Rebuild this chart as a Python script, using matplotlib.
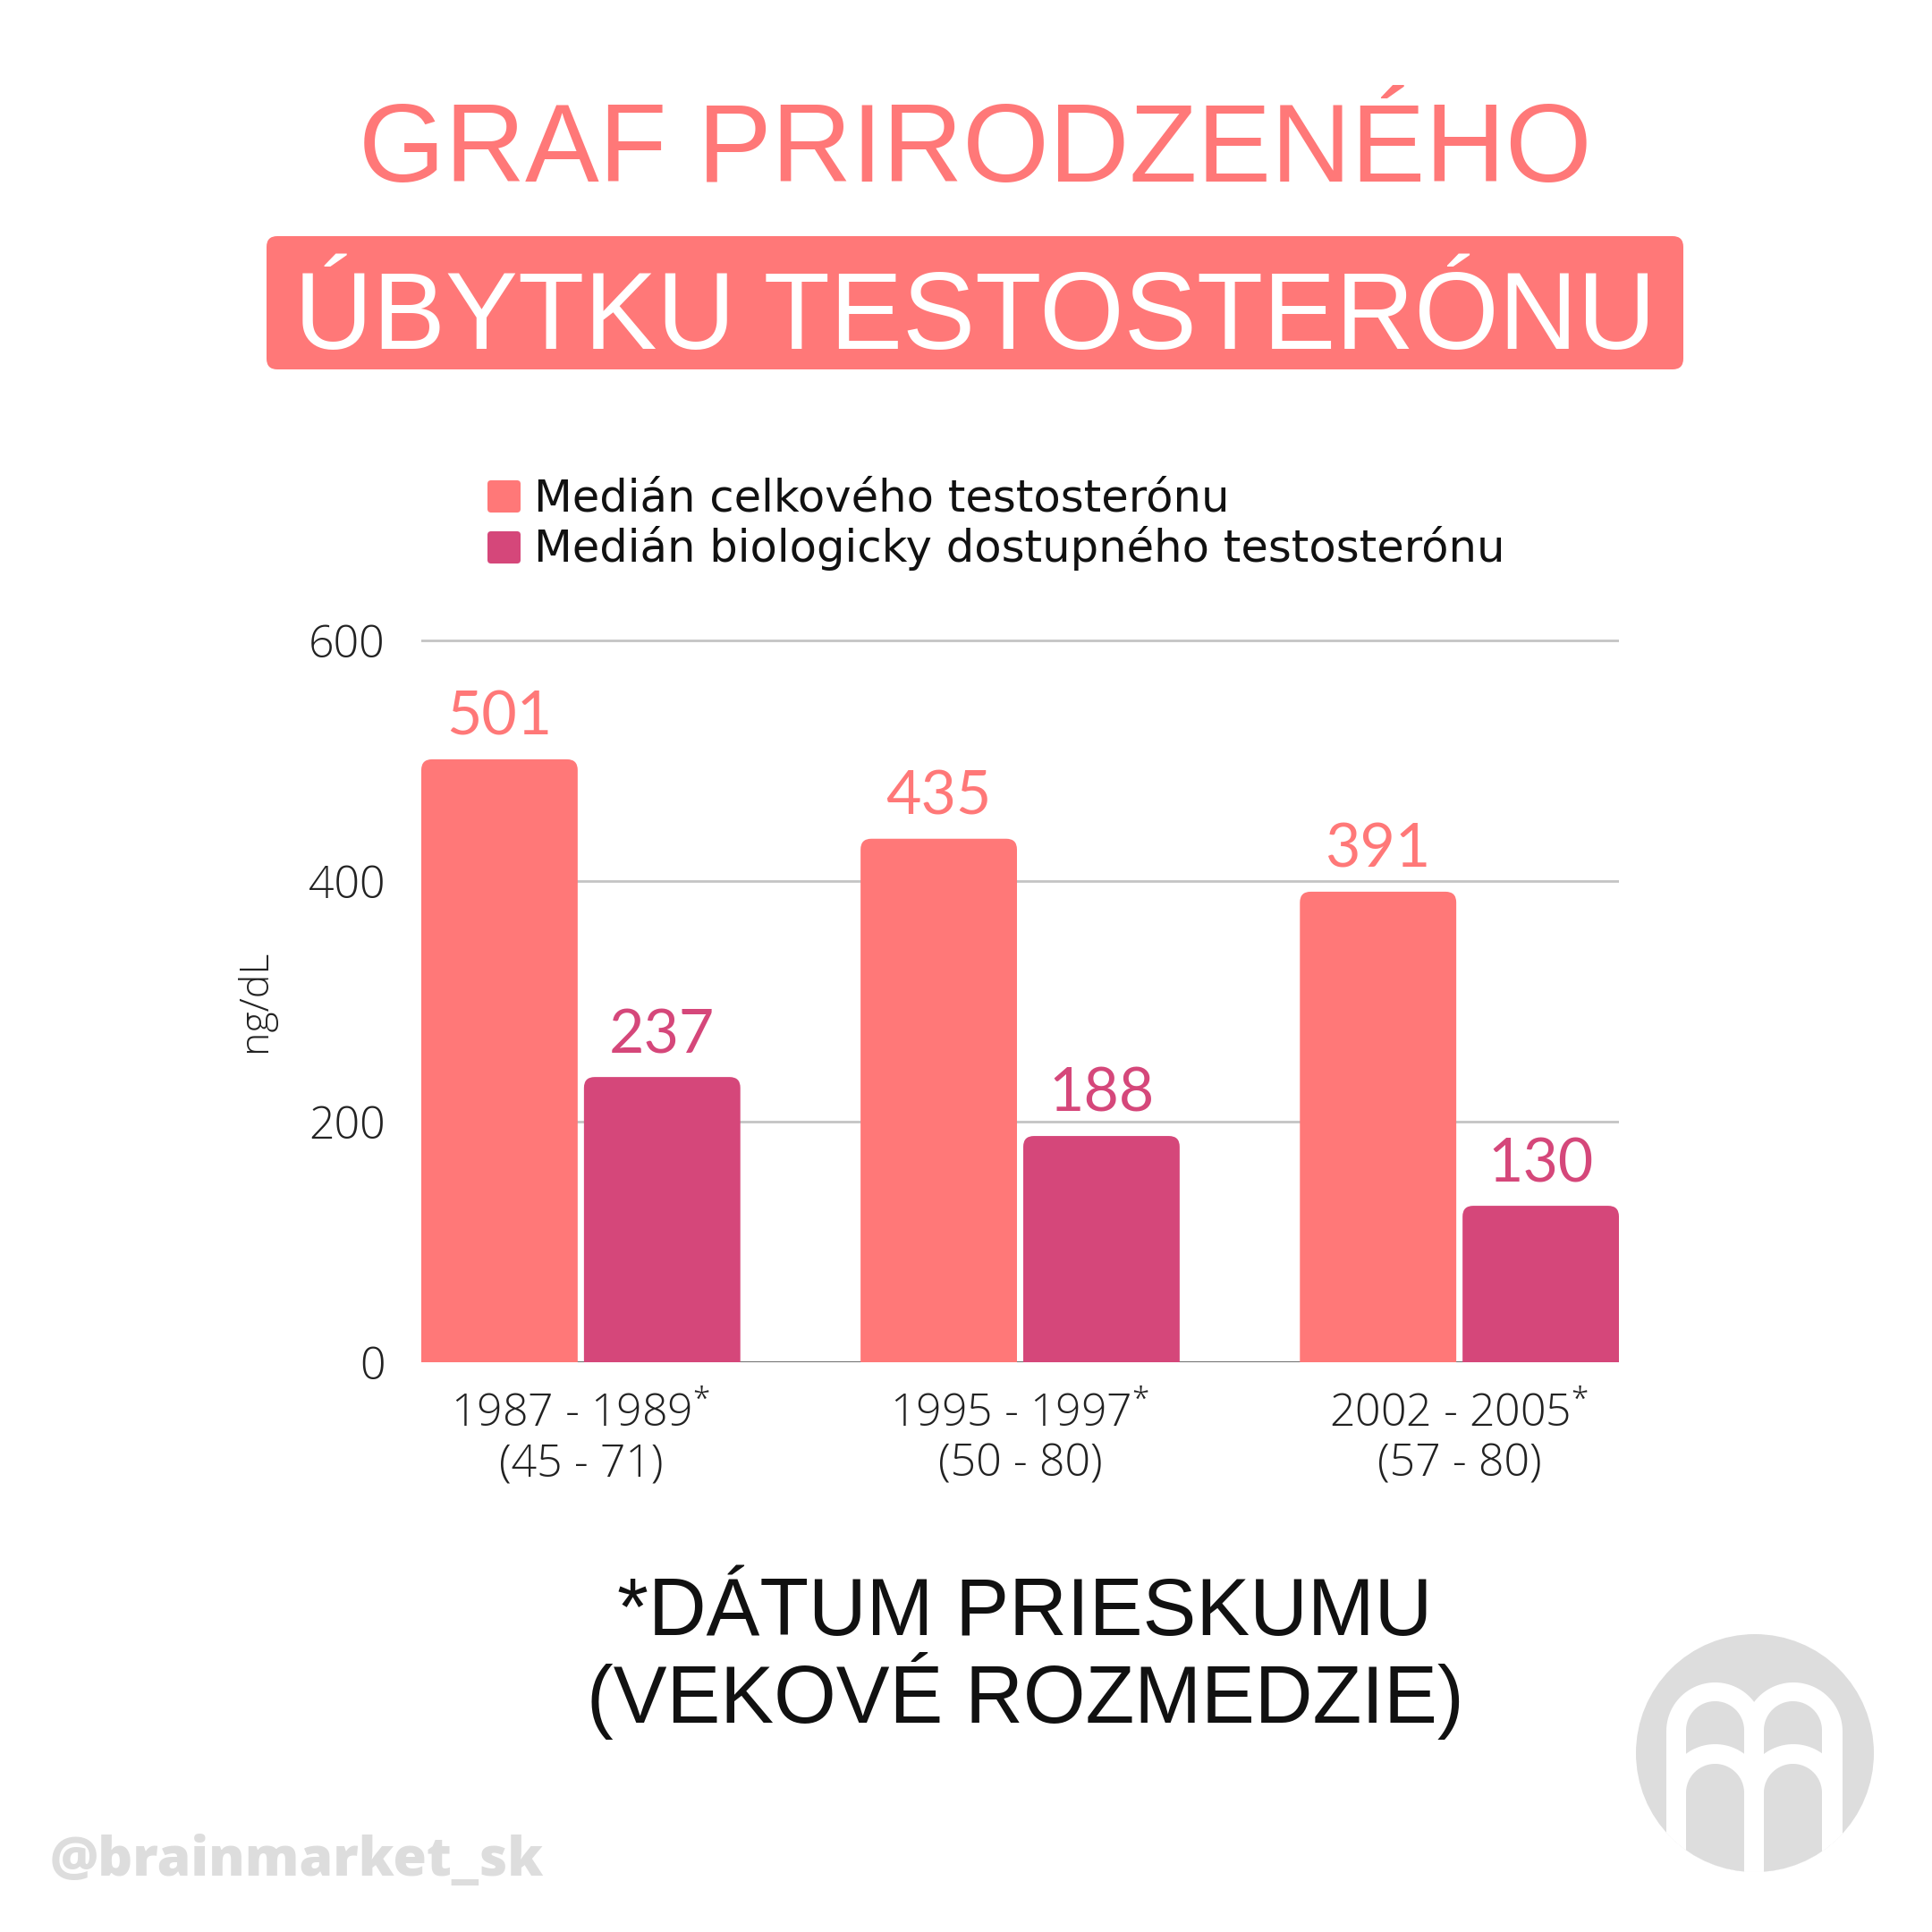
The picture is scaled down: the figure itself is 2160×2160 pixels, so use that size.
import numpy as np
import matplotlib
matplotlib.use('Agg')
import matplotlib.pyplot as plt
from matplotlib.patches import FancyBboxPatch, Circle, Polygon
from matplotlib.transforms import blended_transform_factory

plt.rcParams['font.family'] = ['Lato', 'DejaVu Sans']
plt.rcParams['mathtext.default'] = 'regular'

# data
obdobia = ['1987 - 1989', '1995 - 1997', '2002 - 2005']
vek = ['(45 - 71)', '(50 - 80)', '(57 - 80)']
celkovy = [501, 435, 391]
biologicky = [237, 188, 130]
serie = ['Medián celkového testosterónu', 'Medián biologicky dostupného testosterónu']
yticky = [0, 200, 400, 600]

PINK = '#FF7878'
PURPLE = '#D5477A'
LIGHT = '#DDDDDD'
OPEN = ['Open Sans', 'DejaVu Sans']
HEAD = ['Liberation Sans', 'DejaVu Sans']

W = 2160
fig = plt.figure(figsize=(21.6, 21.6), dpi=100)
fig.patch.set_facecolor('white')
rend = fig.canvas.get_renderer()


def fit(t, width):
    w = t.get_window_extent(rend).width
    t.set_fontsize(t.get_fontsize() * width / w)


# overlay in pixel coords (y down)
ov = fig.add_axes([0, 0, 1, 1])
ov.set_xlim(0, W)
ov.set_ylim(W, 0)
ov.axis('off')
ov.set_zorder(0)

ax_l, ax_r, ax_t, ax_b = 471, 1810, 709, 1523
ax = fig.add_axes([ax_l / W, 1 - ax_b / W, (ax_r - ax_l) / W, (ax_b - ax_t) / W])
ax.set_zorder(2)
ax.patch.set_alpha(0)

x = np.arange(len(obdobia))
bw = 0.356
gap = 0.0143
ax.set_xlim(-bw - gap / 2, len(obdobia) - 1 + bw + gap / 2)
ax.set_ylim(0, 605)

ax.set_yticks(yticky)
ax.set_yticklabels([str(t) for t in yticky], fontsize=36, family=OPEN,
                   fontweight='light', color='#222222')
ax.tick_params(axis='y', length=0, pad=29)
ax.set_xticks([])
for s in ax.spines.values():
    s.set_visible(False)
ax.yaxis.grid(True, color='#C4C4C4', lw=2.0)
ax.set_axisbelow(True)
ax.axhline(0, color='#707070', lw=2.2, zorder=1.5)

b1 = ax.bar(x - bw / 2 - gap / 2, celkovy, bw, color=PINK)
b2 = ax.bar(x + bw / 2 + gap / 2, biologicky, bw, color=PURPLE)

# rounded tops
px_x = (ax_r - ax_l) / (ax.get_xlim()[1] - ax.get_xlim()[0])
px_y = (ax_b - ax_t) / (ax.get_ylim()[1] - ax.get_ylim()[0])
asp = px_x / px_y
rad = 12 / px_x
for rect in list(b1) + list(b2):
    p = FancyBboxPatch((rect.get_x(), -20), rect.get_width(), rect.get_height() + 20,
                       boxstyle=f'round,pad=0,rounding_size={rad}', mutation_aspect=asp,
                       fc=rect.get_facecolor(), ec='none', zorder=3)
    ax.add_patch(p)
    rect.set_visible(False)

for rects, vals, col in [(b1, celkovy, PINK), (b2, biologicky, PURPLE)]:
    for r, v in zip(rects, vals):
        ax.annotate(str(v), (r.get_x() + r.get_width() / 2, v), xytext=(0, 19.5),
                    textcoords='offset points', ha='center', va='baseline',
                    fontsize=49, color=col)

# category labels
bt = blended_transform_factory(ax.transData, ov.transData)
for xi, o, v in zip(x, obdobia, vek):
    ax.text(xi, 1596, o + '$^{*}$', transform=bt, ha='center', va='baseline',
            fontsize=36, family=OPEN, fontweight='light', color='#222222')
    ax.text(xi, 1651, v, transform=bt, ha='center', va='baseline',
            fontsize=36, family=OPEN, fontweight='light', color='#222222')

ov.text(285, 1119, 'ng/dL', rotation=90, ha='center', va='center', fontsize=32,
        family=OPEN, fontweight='light', color='#222222')

# title
t = ov.text(1090, 203, 'GRAF PRIRODZENÉHO', ha='center', va='baseline', fontsize=90,
            family=HEAD, color=PINK)
fit(t, 1380)
ov.add_patch(FancyBboxPatch((298, 264), 1584, 149, boxstyle='round,pad=0,rounding_size=12',
                            fc=PINK, ec='none'))
t = ov.text(1090, 390, 'ÚBYTKU TESTOSTERÓNU', ha='center', va='baseline', fontsize=90,
            family=HEAD, color='white')
fit(t, 1522)

# legend
leg = []
for i, (lab, col) in enumerate(zip(serie, [PINK, PURPLE])):
    ov.add_patch(FancyBboxPatch((545, 537 + 57 * i), 37, 36, boxstyle='round,pad=0,rounding_size=4',
                                fc=col, ec='none'))
    leg.append(ov.text(597, 572 + 56 * i, lab, ha='left', va='baseline', fontsize=34,
                       family=['DejaVu Sans'], color='#111111'))
fit(leg[1], 1085)
leg[0].set_fontsize(leg[1].get_fontsize())

# footnote
t1 = ov.text(1146, 1828, '*DÁTUM PRIESKUMU', ha='center', va='baseline', fontsize=64,
             family=HEAD, color='#111111')
t2 = ov.text(1146, 1926, '(VEKOVÉ ROZMEDZIE)', ha='center', va='baseline', fontsize=64,
             family=HEAD, color='#111111')
fit(t2, 981)
t1.set_fontsize(t2.get_fontsize())

# watermark
t = ov.text(56, 2097, '@brainmarket_sk', ha='left', va='baseline', fontsize=46,
            family=OPEN, fontweight=800, color=LIGHT)
fit(t, 552)

# logo
circ = Circle((1962, 1960), 133, fc=LIGHT, ec='none')
ov.add_patch(circ)


def arch(xl, xr, ytop, ybot):
    r = (xr - xl) / 2
    xc, yc = xl + r, ytop + r
    tt = np.linspace(np.pi, 0, 60)
    pts = np.column_stack([xc + r * np.cos(tt), yc - r * np.sin(tt)])
    return np.vstack([[xl, ybot], pts, [xr, ybot]])


shapes = [
    ((1863, 1972, 1881, 2200), 'white'), ((1950, 2060, 1881, 2200), 'white'),
    ((1885, 1950, 1902, 2010), LIGHT), ((1972, 2037, 1902, 2010), LIGHT),
    ((1863, 1972, 1950, 2200), 'white'), ((1950, 2060, 1950, 2200), 'white'),
    ((1885, 1950, 1972, 2200), LIGHT), ((1972, 2037, 1972, 2200), LIGHT),
]
for (xl, xr, yt, yb), c in shapes:
    poly = Polygon(arch(xl, xr, yt, yb), closed=True, fc=c, ec='none')
    ov.add_patch(poly)
    poly.set_clip_path(circ)

fig.savefig('out.png', dpi=100, facecolor='white')
